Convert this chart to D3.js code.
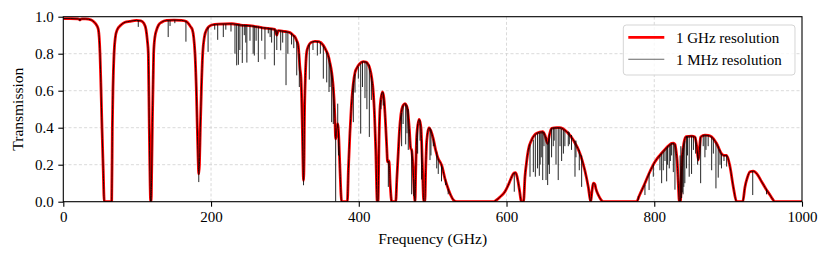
<!DOCTYPE html>
<html>
<head>
<meta charset="utf-8">
<script src="https://cdn.jsdelivr.net/npm/d3@7"></script>
<style>
  body { margin: 0; background: #fff; }
  text { font-family: "Liberation Serif", "DejaVu Serif", serif; fill: #000; }
</style>
</head>
<body>
<div id="chart"></div>
<script>
// ------------------------------------------------ data ------------------------------------------------
// 1 GHz resolution curve: frequency (GHz) and transmission
var smoothFreq = [0, 10, 20, 22.5, 25, 30, 38, 42, 45, 47.5, 49.7, 51, 52.4, 54, 55.5, 65.5, 66.4, 67.3, 68.7, 70.5,
  73, 78, 83.5, 90, 99, 105, 109, 112, 113.8, 115.1, 116.4, 117.5, 118.2, 118.9, 119.6, 120.5, 122.3, 124, 126.4, 129,
  133, 140, 150, 160, 166, 170, 172.5, 174.7, 176.5, 178.3, 180, 181.4, 182.6, 183.4, 184.3, 185.5, 187, 188.7, 191, 194,
  200.9, 210, 228, 240, 255, 270, 286.6, 289, 291, 300, 306.9, 311, 313.7, 316, 318, 320.4, 321.8, 323.6, 324.5, 325.2,
  326, 326.3, 327.6, 329.5, 331.7, 335, 340.7, 346, 352, 356, 358.7, 361, 363.3, 365, 366.5, 367.7, 368.7, 370, 371.5, 373,
  374.5, 376.8, 384.5, 386, 388, 390, 392.6, 395, 397, 401, 406, 410, 413, 415, 417.5, 419.7, 421.5, 423, 425, 426,
  427.5, 429, 432, 434, 436.4, 437.8, 439, 440.9, 442.6, 444.6, 450, 451.5, 453.5, 455, 457, 460, 462.6, 464.5, 466, 468.4,
  470.3, 471.6, 473.8, 475.6, 476.2, 477, 478.5, 481.6, 483, 484.3, 486, 488, 489.5, 490.6, 492, 495, 497.5, 500.9, 504, 507.6,
  510, 512.2, 516.7, 521, 524.5, 528, 532.5, 582, 586, 591, 598, 602.4, 606, 610, 612, 614, 616, 618, 620, 623,
  625, 627, 629.5, 634, 640.9, 649, 652, 655.7, 658, 661, 668, 672, 681.5, 690.4, 699.5, 706, 710.7, 714, 715.5, 717.5,
  719.5, 721, 724.3, 728, 731, 776, 780, 785.2, 794, 801, 807.7, 814.5, 820, 823.6, 826, 828, 830, 831, 832.5, 834,
  835.5, 837, 840, 843, 850.7, 855, 857.5, 859.7, 861.5, 862.8, 868.6, 873, 877.7, 884.4, 891, 894.5, 898, 902.5, 907, 911.6,
  919.7, 922.8, 926, 929.6, 934, 938, 945.4, 951, 956.7, 960, 963.5, 1000];
var smoothTrans = [0.99, 0.99, 0.988, 0.984, 0.988, 0.988, 0.982, 0.97, 0.955, 0.93, 0.80, 0.62, 0.40, 0.18, 0, 0, 0.40, 0.62, 0.80, 0.89,
  0.93, 0.955, 0.97, 0.975, 0.98, 0.978, 0.965, 0.93, 0.87, 0.80, 0.40, 0.10, 0, 0, 0.15, 0.40, 0.80, 0.89, 0.93, 0.955,
  0.97, 0.98, 0.982, 0.98, 0.975, 0.96, 0.945, 0.93, 0.89, 0.80, 0.62, 0.40, 0.22, 0.15, 0.20, 0.40, 0.62, 0.80, 0.89, 0.93,
  0.955, 0.96, 0.962, 0.955, 0.95, 0.94, 0.932, 0.90, 0.925, 0.92, 0.914, 0.90, 0.89, 0.87, 0.845, 0.72, 0.665, 0.40, 0.20, 0.115,
  0.25, 0.40, 0.665, 0.81, 0.84, 0.86, 0.867, 0.865, 0.845, 0.815, 0.79, 0.75, 0.70, 0.64, 0.557, 0.45, 0.34, 0.38, 0.42, 0.34,
  0.18, 0, 0, 0.18, 0.37, 0.52, 0.64, 0.70, 0.72, 0.745, 0.757, 0.755, 0.74, 0.72, 0.67, 0.59, 0.45, 0.28, 0, 0,
  0.35, 0.52, 0.593, 0.56, 0.41, 0.30, 0.215, 0.22, 0.09, 0, 0, 0.12, 0.27, 0.38, 0.47, 0.52, 0.53, 0.52, 0.50, 0.395,
  0.287, 0.28, 0.16, 0.02, 0, 0.15, 0.36, 0.445, 0.43, 0.395, 0.215, 0, 0, 0.18, 0.33, 0.40, 0.385, 0.34, 0.28, 0.232,
  0.215, 0.197, 0.124, 0.07, 0.035, 0.01, 0, 0, 0.008, 0.025, 0.055, 0.09, 0.125, 0.155, 0.157, 0.14, 0.10, 0.05, 0, 0,
  0.135, 0.21, 0.28, 0.334, 0.37, 0.378, 0.36, 0.315, 0.36, 0.397, 0.40, 0.40, 0.378, 0.334, 0.26, 0.17, 0.08, 0, 0.05, 0.10,
  0.095, 0.07, 0.036, 0.01, 0, 0, 0.035, 0.08, 0.162, 0.216, 0.252, 0.283, 0.305, 0.315, 0.316, 0.31, 0.26, 0.22, 0.10, 0,
  0, 0.18, 0.315, 0.352, 0.355, 0.35, 0.30, 0.225, 0.30, 0.35, 0.36, 0.358, 0.35, 0.315, 0.26, 0.25, 0.25, 0.19, 0.08, 0,
  0, 0.08, 0.13, 0.162, 0.165, 0.155, 0.108, 0.07, 0.036, 0.015, 0, 0];

// 1 MHz resolution: narrow lines seen on top of the continuum (freq, level at line edge, level at line centre)
var lineFreq = [22.5, 101.5, 142, 144.5, 151, 166, 183.4, 196, 205, 209, 216.6, 220, 227, 232.4, 234.7, 237, 239, 242.3, 245, 247,
  248.5, 252.7, 257, 258.6, 261, 264, 268.6, 273, 277.5, 280, 282, 285.7, 289, 294.3, 297, 301.5, 304, 309, 312, 316,
  319.5, 325.2, 333, 338, 343.9, 348, 352, 356.6, 359.7, 361, 363.3, 365.5, 368.7, 371.5, 372.5, 392.6, 394.9, 399.4, 402.6, 405,
  408.4, 411, 414.3, 417, 430, 433, 440, 458, 460, 463.5, 465.3, 467, 471.6, 474.5, 479.7, 482.9, 485, 496.4, 497.7, 500.9,
  505.5, 507.6, 512, 517.6, 521, 610.5, 631.8, 636.3, 639, 642, 644.4, 645.5, 647, 649, 650.7, 653.5, 655.7, 656.8, 658, 661,
  663.3, 664.5, 667, 670, 672.4, 674.6, 677, 679, 683.6, 685, 688, 692.7, 694, 698.5, 701.7, 778.4, 787.4, 793, 798.7, 807.7,
  810, 812.2, 814.5, 816.8, 818, 820.3, 821.8, 823.5, 825.8, 828, 835, 836, 837, 838, 839, 840, 841.4, 843.7, 845, 847.3,
  850.5, 853, 856, 858.7, 862.8, 866.3, 868.6, 870, 873, 877.7, 880, 883.5, 886.6, 889, 891, 894.4, 898, 933.3, 952];
var lineEdge = [0.99, 0.98, 0.98, 0.98, 0.982, 0.975, 0.15, 0.945, 0.958, 0.96, 0.96, 0.96, 0.962, 0.96, 0.96, 0.96, 0.958, 0.957, 0.957, 0.956,
  0.956, 0.953, 0.952, 0.95, 0.95, 0.948, 0.945, 0.943, 0.94, 0.938, 0.937, 0.933, 0.93, 0.925, 0.922, 0.92, 0.918, 0.912, 0.90, 0.87,
  0.80, 0.115, 0.85, 0.862, 0.867, 0.86, 0.845, 0.815, 0.78, 0.75, 0.70, 0.62, 0.34, 0.40, 0.38, 0.64, 0.69, 0.73, 0.745, 0.757,
  0.757, 0.755, 0.74, 0.68, 0.55, 0.59, 0.22, 0.48, 0.52, 0.53, 0.52, 0.50, 0.28, 0.12, 0.42, 0.44, 0.33, 0.40, 0.39, 0.34,
  0.27, 0.232, 0.197, 0.12, 0.07, 0.155, 0.31, 0.335, 0.36, 0.37, 0.372, 0.373, 0.375, 0.378, 0.375, 0.35, 0.315, 0.33, 0.36, 0.397,
  0.40, 0.40, 0.40, 0.40, 0.40, 0.395, 0.39, 0.385, 0.38, 0.375, 0.36, 0.33, 0.33, 0.28, 0.25, 0.03, 0.09, 0.155, 0.20, 0.252,
  0.26, 0.27, 0.283, 0.29, 0.30, 0.305, 0.31, 0.315, 0.316, 0.31, 0, 0.05, 0.18, 0.25, 0.29, 0.315, 0.33, 0.352, 0.353, 0.354,
  0.355, 0.352, 0.35, 0.27, 0.35, 0.36, 0.36, 0.36, 0.358, 0.35, 0.34, 0.32, 0.30, 0.28, 0.26, 0.25, 0.25, 0.165, 0.07];
var lineCentre = [0.975, 0.945, 0.89, 0.95, 0.965, 0.865, 0.106, 0.81, 0.93, 0.875, 0.89, 0.93, 0.92, 0.80, 0.737, 0.74, 0.82, 0.75, 0.90, 0.86,
  0.752, 0.87, 0.80, 0.79, 0.87, 0.755, 0.87, 0.77, 0.91, 0.89, 0.86, 0.737, 0.82, 0.818, 0.86, 0.63, 0.80, 0.85, 0.83, 0.683,
  0.62, 0.089, 0.66, 0.82, 0.79, 0.80, 0.665, 0.645, 0.593, 0.62, 0.43, 0.42, 0, 0.53, 0.25, 0.43, 0.59, 0.665, 0.368, 0.62,
  0.56, 0.50, 0.35, 0.55, 0.50, 0.52, 0.08, 0.30, 0.42, 0.31, 0.37, 0.28, 0.04, 0.03, 0.26, 0.33, 0.12, 0.225, 0.25, 0.30,
  0.18, 0.15, 0.11, 0.09, 0.04, 0.054, 0.135, 0.16, 0.135, 0.18, 0.14, 0.20, 0.24, 0.117, 0.30, 0.117, 0.09, 0.20, 0.15, 0.24,
  0.30, 0.33, 0.20, 0.117, 0.30, 0.22, 0.26, 0.30, 0.30, 0.31, 0.28, 0.135, 0.24, 0.17, 0.08, 0.01, 0.036, 0.063, 0.135, 0.17,
  0.10, 0.17, 0.22, 0.11, 0.20, 0.18, 0.22, 0.25, 0.16, 0.065, 0.25, 0.30, 0.02, 0.05, 0.04, 0.08, 0.10, 0.18, 0.25, 0.135,
  0.15, 0.28, 0.26, 0.20, 0.10, 0.30, 0.24, 0.28, 0.30, 0.17, 0.26, 0.072, 0.13, 0.20, 0.18, 0.22, 0.19, 0.036, 0.04];

var xTicks = [0, 200, 400, 600, 800, 1000];
var yTicks = [0.0, 0.2, 0.4, 0.6, 0.8, 1.0];
var legendLabels = ["1 GHz resolution", "1 MHz resolution"];

// ------------------------------------------------ chart ------------------------------------------------
var W = 830, H = 260;
var margin = {top: 16.7, right: 28, bottom: 58.3, left: 63.3},
    width = W - margin.left - margin.right,
    height = H - margin.top - margin.bottom;

var svg = d3.select("#chart")
  .append("svg")
    .attr("width", W)
    .attr("height", H)
  .append("g")
    .attr("transform", "translate(" + margin.left + "," + margin.top + ")");

var x = d3.scaleLinear().domain([0, 1000]).range([0, width]);
var y = d3.scaleLinear().domain([0, 1]).range([height, 0]);

svg.append("clipPath").attr("id", "plotclip")
  .append("rect").attr("width", width).attr("height", height);

// grid
svg.append("g")
  .selectAll("line")
  .data(xTicks.slice(1, -1))
  .enter().append("line")
    .attr("x1", function(d) { return x(d); })
    .attr("x2", function(d) { return x(d); })
    .attr("y1", 0).attr("y2", height)
    .attr("stroke", "#cfcfcf").attr("stroke-width", 0.8).attr("stroke-dasharray", "3,2.2");
svg.append("g")
  .selectAll("line")
  .data(yTicks.slice(1, -1))
  .enter().append("line")
    .attr("y1", function(d) { return y(d); })
    .attr("y2", function(d) { return y(d); })
    .attr("x1", 0).attr("x2", width)
    .attr("stroke", "#cfcfcf").attr("stroke-width", 0.8).attr("stroke-dasharray", "3,2.2");

var smoothData = smoothFreq.map(function(f, i) { return [f, smoothTrans[i]]; });
var line = d3.line()
  .x(function(d) { return x(d[0]); })
  .y(function(d) { return y(d[1]); })
  .curve(d3.curveMonotoneX);

var plot = svg.append("g").attr("clip-path", "url(#plotclip)");

// red 1 GHz curve
plot.append("path")
  .datum(smoothData)
  .attr("d", line)
  .attr("fill", "none")
  .attr("stroke", "#ff0000")
  .attr("stroke-width", 2.8)
  .attr("stroke-linejoin", "round");

// black 1 MHz curve: continuum plus narrow lines
var fine = plot.append("g").attr("opacity", 0.85);
fine.append("path")
  .datum(smoothData)
  .attr("d", line)
  .attr("fill", "none")
  .attr("stroke", "#000")
  .attr("stroke-width", 1);
fine.selectAll("line")
  .data(lineFreq.map(function(f, i) { return {f: f, a: lineEdge[i], b: lineCentre[i]}; }))
  .enter().append("line")
    .attr("x1", function(d) { return x(d.f); })
    .attr("x2", function(d) { return x(d.f); })
    .attr("y1", function(d) { return y(d.a); })
    .attr("y2", function(d) { return y(d.b); })
    .attr("stroke", "#000")
    .attr("stroke-width", 1);

// axes
var xAxis = svg.append("g")
  .attr("transform", "translate(0," + height + ")")
  .call(d3.axisBottom(x).tickValues(xTicks).tickFormat(d3.format("d")).tickSize(5).tickPadding(4.5));
var yAxis = svg.append("g")
  .call(d3.axisLeft(y).tickValues(yTicks).tickFormat(d3.format(".1f")).tickSize(5).tickPadding(4.5));
[xAxis, yAxis].forEach(function(a) {
  a.select(".domain").remove();
  a.selectAll("line").attr("stroke", "#000").attr("stroke-width", 1.1);
  a.selectAll("text").style("font-size", "15px").style("font-family", "Liberation Serif");
});

svg.append("rect")
  .attr("width", width).attr("height", height)
  .attr("fill", "none").attr("stroke", "#000").attr("stroke-width", 1.1);

// axis labels
svg.append("text")
  .attr("x", width / 2)
  .attr("y", 244.3 - margin.top)
  .attr("text-anchor", "middle")
  .style("font-size", "15.5px")
  .text("Frequency (GHz)");
svg.append("text")
  .attr("transform", "translate(" + (23 - margin.left) + "," + (height / 2) + ")rotate(-90)")
  .attr("text-anchor", "middle")
  .style("font-size", "15.5px")
  .text("Transmission");

// legend
var legend = svg.append("g").attr("transform", "translate(" + (623.3 - margin.left) + "," + (25 - margin.top) + ")");
legend.append("rect")
  .attr("width", 171.7).attr("height", 50).attr("rx", 3)
  .attr("fill", "#fff").attr("fill-opacity", 0.8)
  .attr("stroke", "#d5d5d5").attr("stroke-width", 1);
legend.append("line")
  .attr("x1", 5).attr("x2", 41).attr("y1", 12.3).attr("y2", 12.3)
  .attr("stroke", "#ff0000").attr("stroke-width", 2.8);
legend.append("line")
  .attr("x1", 5).attr("x2", 41).attr("y1", 34.3).attr("y2", 34.3)
  .attr("stroke", "#000").attr("stroke-opacity", 0.6).attr("stroke-width", 1.1);
legend.selectAll("text.lab")
  .data(legendLabels)
  .enter().append("text")
    .attr("class", "lab")
    .attr("x", 52.7)
    .attr("y", function(d, i) { return 18 + i * 22.4; })
    .style("font-size", "15px")
    .text(function(d) { return d; });
</script>
</body>
</html>
